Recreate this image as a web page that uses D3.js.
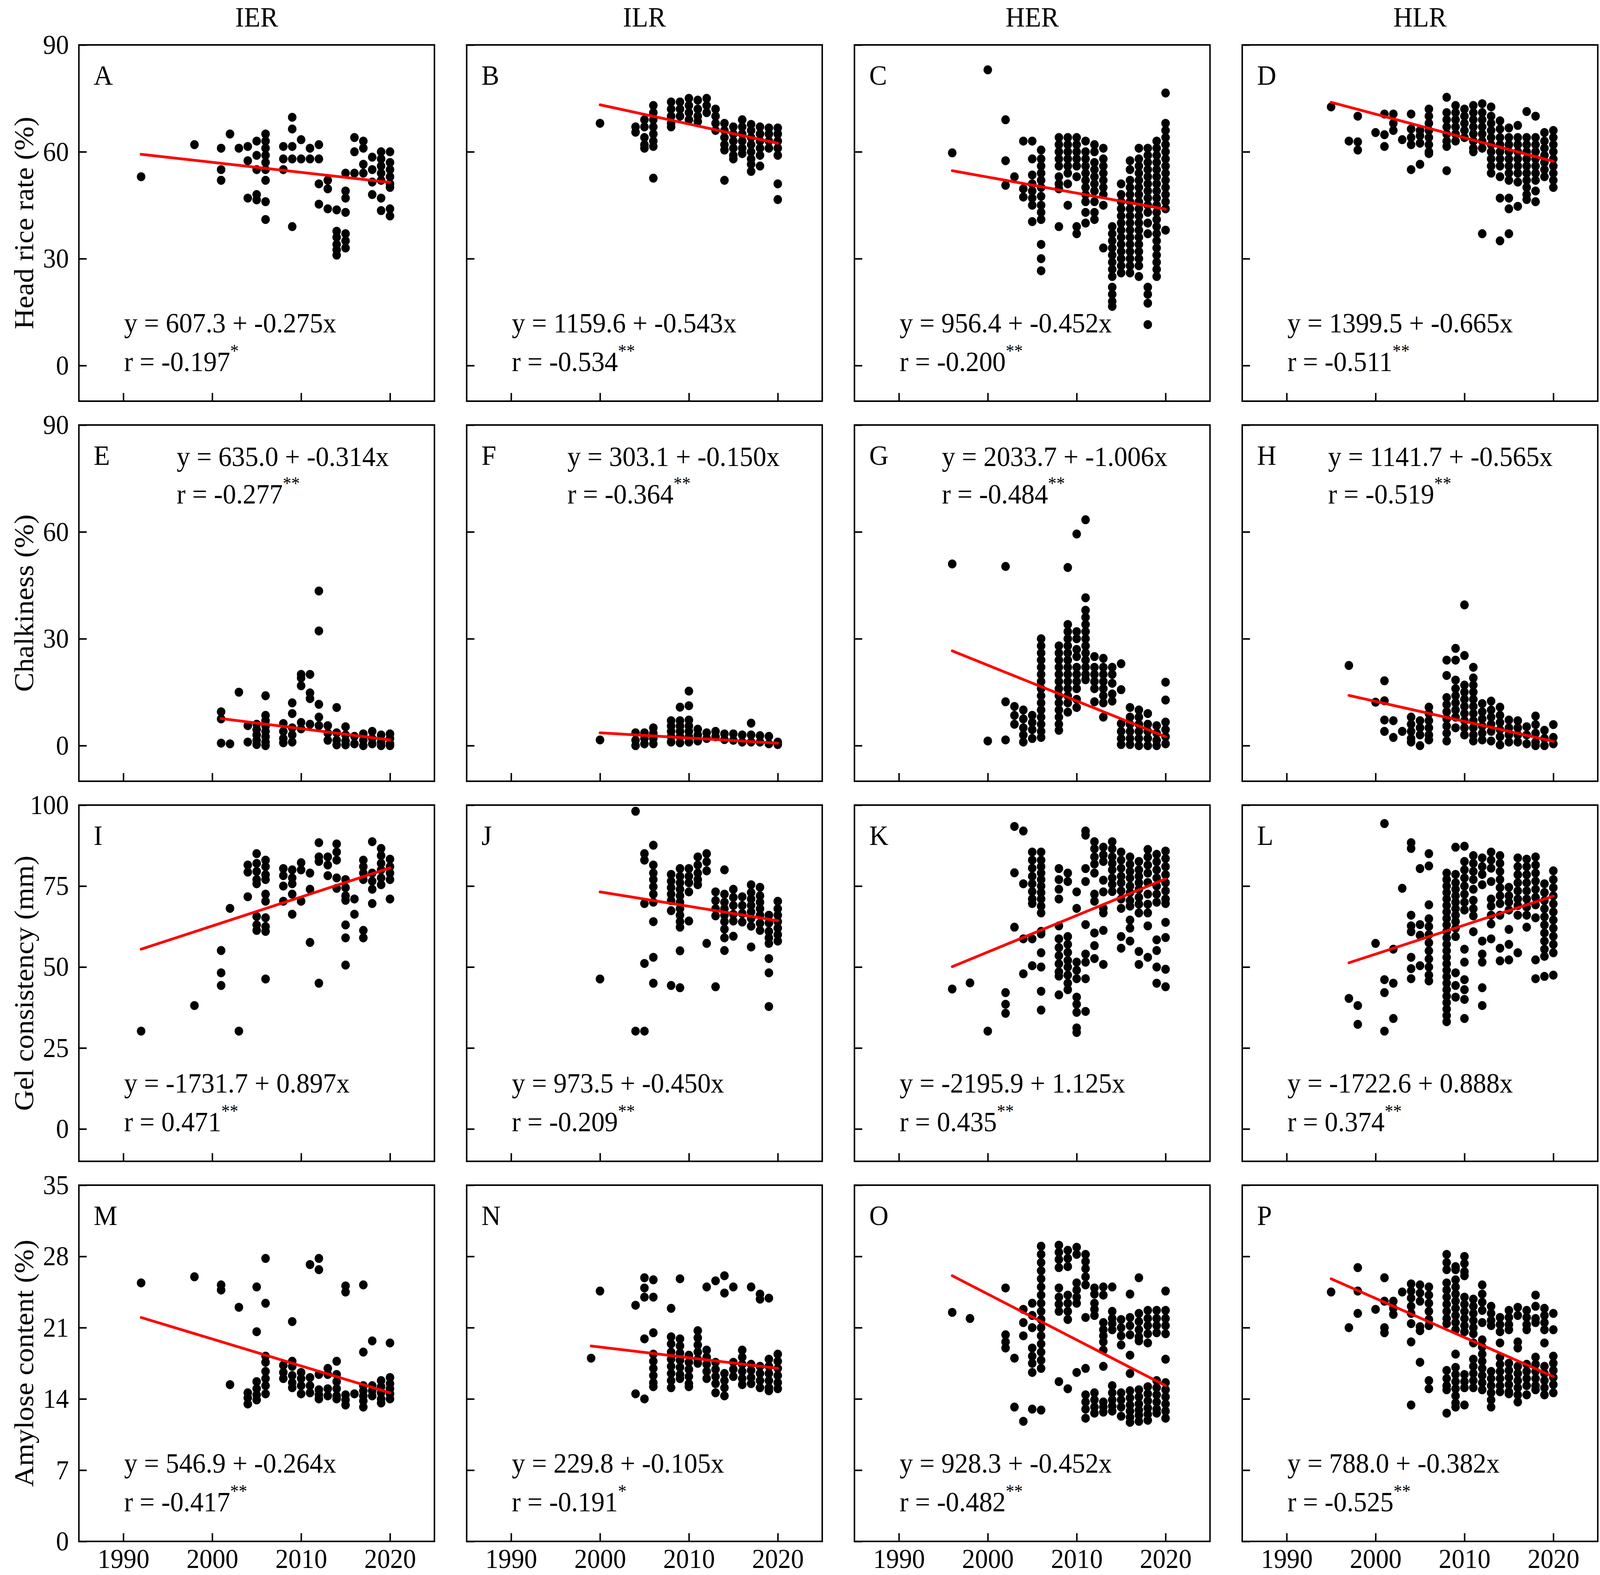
<!DOCTYPE html>
<html>
<head>
<meta charset="utf-8">
<script src="https://cdn.jsdelivr.net/npm/d3@7"></script>
<style>
  html, body { margin: 0; padding: 0; background: #fff; overflow: hidden; }
  #chart svg { display: block; width: 100vw; height: 100vh; }
</style>
</head>
<body>
<div id="chart"></div>
<script>
// Column (environment) titles and row (trait) titles.
const columnTitles = ["IER", "ILR", "HER", "HLR"];
const traitTitles = ["Head rice rate (%)", "Chalkiness (%)", "Gel consistency (mm)", "Amylose content (%)"];
const panelLetters = ["A", "B", "C", "D", "E", "F", "G", "H", "I", "J", "K", "L", "M", "N", "O", "P"];

// Axis ticks.
const yearTicks = [1990, 2000, 2010, 2020];
const yTicksHeadRice = [0, 30, 60, 90];
const yTicksChalk = [0, 30, 60, 90];
const yTicksGel = [0, 25, 50, 75, 100];
const yTicksAmylose = [0, 7, 14, 21, 28, 35];

// Regression labels.
const equationTexts = [
  "y = 607.3 + -0.275x", "y = 1159.6 + -0.543x", "y = 956.4 + -0.452x", "y = 1399.5 + -0.665x",
  "y = 635.0 + -0.314x", "y = 303.1 + -0.150x", "y = 2033.7 + -1.006x", "y = 1141.7 + -0.565x",
  "y = -1731.7 + 0.897x", "y = 973.5 + -0.450x", "y = -2195.9 + 1.125x", "y = -1722.6 + 0.888x",
  "y = 546.9 + -0.264x", "y = 229.8 + -0.105x", "y = 928.3 + -0.452x", "y = 788.0 + -0.382x"
];
const rTexts = [
  "r = -0.197", "r = -0.534", "r = -0.200", "r = -0.511",
  "r = -0.277", "r = -0.364", "r = -0.484", "r = -0.519",
  "r = 0.471", "r = -0.209", "r = 0.435", "r = 0.374",
  "r = -0.417", "r = -0.191", "r = -0.482", "r = -0.525"
];
const significance = [
  "*", "**", "**", "**",
  "**", "**", "**", "**",
  "**", "**", "**", "**",
  "**", "*", "**", "**"
];

// Fitted line end points [year0, value0, year1, value1].
const fitLines = [
  [1992, 59.3, 2020, 51.4], [2000, 73.2, 2020, 62.4], [1996, 54.7, 2020, 43.9], [1995, 73.9, 2020, 57.3],
  [2001, 7.6, 2020, 1.6], [2000, 3.6, 2020, 0.7], [1996, 26.6, 2020, 2.5], [1997, 14.1, 2020, 1.2],
  [1992, 55.5, 2020, 80.6], [2000, 73.2, 2020, 64.3], [1996, 50.1, 2020, 77.2], [1997, 51.3, 2020, 71.9],
  [1992, 22.0, 2020, 14.6], [1999, 19.2, 2020, 17.0], [1996, 26.1, 2020, 15.3], [1995, 25.8, 2020, 16.2]
];

// Observations per year: [year, [values...]].
// Head rice rate (%)
const hrrIER = [[1992,[53]],[1998,[62]],[2001,[61,55,52]],[2002,[65]],[2003,[61]],[2004,[61.5,57.5,47]],[2005,[63,59,55,48,46.5]],[2006,[65,63,61,59,57,55,52,46,41]],[2008,[61.5,58,55]],[2009,[69.7,66.4,61.5,58,39]],[2010,[63.4,58]],[2011,[61,58]],[2012,[62,58,51,45.3]],[2013,[52,49.6,44]],[2014,[43.7,37.7,36,34,32.5,31]],[2015,[54,49,47,43,37,35,33]],[2016,[64,60,54]],[2017,[63,61,56.5,54]],[2018,[58.5,55,51.5,48]],[2019,[60,58,56,54,52,47,43.5]],[2020,[60,57,55,53,51,50,44,42]]];
const hrrILR = [[2000,[68]],[2004,[67,65.5]],[2005,[69,67,64,62,61]],[2006,[73,71,69,67,65,63,61.5,52.6]],[2008,[74,72,70,68,67]],[2009,[74,72,70]],[2010,[75,73,71,69]],[2011,[74.5,72,70,68.5]],[2012,[75,73,71]],[2013,[72,70,68,66]],[2014,[68,66,64,62,60.5,52]],[2015,[67,65,63,61,59,58]],[2016,[69,67,65,63,61,59.5]],[2017,[67.7,66,64,62,60,58,56.5,54.5]],[2018,[67,65,63,61,59,56]],[2019,[66.7,65,63,61]],[2020,[66.7,65,63,61,59,51,46.6]]];
const hrrHER = [[1996,[59.7]],[2000,[83]],[2002,[69,57.5,50.6]],[2003,[53]],[2004,[63,49.6,47.3]],[2005,[63,58,53.5,51,49,47,45,40.4]],[2006,[60.5,58,56,54,52,50,47.5,45,43,41,34,30,26.6]],[2008,[64,62,60,58,56,53,51,49.6,39]],[2009,[64,62,60,58,56,54,51,45]],[2010,[64,62,60,58,56,53,39,37]],[2011,[63,60,58,56,54,52,50,48,46,43,40]],[2012,[62,60,57,55,53,51,49,46,43,41]],[2013,[61,58,56,54,52,50,48,45,33]],[2014,[39,37,35,33,31,29,27,25,22,20,18,16.6]],[2015,[51,48,46,44,42,40,38,36,34,32,30,28,26]],[2016,[57.5,55,52,50,48,46,44,42,40,38,36,34,32,30,28,26]],[2017,[61,58,56,54,52,50,48,46,44,42,40,38,36,34,32,30,28,25]],[2018,[61,59,57,55,53,51,49,47,45,43,40,37,22,20,17.5,11.5]],[2019,[63,61,59,57,55,53,51,49,47,45,43,41,39,37,35,33,31,29,27,25]],[2020,[76.5,68,66,64,62,60,58,56,54,52,50,48,46,44,38]]];
const hrrHLR = [[1995,[72.6]],[1997,[63]],[1998,[70,62.8,60.5]],[2000,[65.4]],[2001,[70.6,64.8,61.5]],[2002,[70.6,68,66]],[2003,[63.4]],[2004,[70.6,66.4,64,62,55]],[2005,[66,64.5,62.4,56.5]],[2006,[72,70,68,66,64,62,60,59.5]],[2008,[75.3,71,69,67,65,63,61.5,54.7]],[2009,[73,71,69,67,65,63]],[2010,[72,70,68,66,64]],[2011,[73,71,69,67,65,63,61,60]],[2012,[73.5,71,69,67,65,63,61,37]],[2013,[72.6,70,68,66,64,62,60,58,56,54]],[2014,[68.7,66.4,64,62,60,58,56,53,47,35]],[2015,[66.7,64,62,60,58,56,54,52,47,44,37]],[2016,[67.4,64,62,60,58,56,54,51.5,44.7]],[2017,[71.3,64,62,60,58,56,54,52,50,48,46.6]],[2018,[70,64,62,60,58,56,54,52,49,46]],[2019,[65.4,63,61,59,57,55,53]],[2020,[66,64,62,60,58,56,54,52,50]]];

// Chalkiness (%)
const chalkIER = [[2001,[9.5,7.5,0.7]],[2002,[0.5]],[2003,[15]],[2004,[5.6,1]],[2005,[6,4.5,3,1.5,0.3]],[2006,[14,8.5,7,5.5,4,2.5,1,0]],[2008,[6.2,4,2,0.8]],[2009,[12,9,5,3,1]],[2010,[20,19,16.8,6.5,4.7]],[2011,[20,14.8,13.2,6]],[2012,[43.4,32.2,11.6,8,5.6]],[2013,[5.6,3.5,1.5]],[2014,[10.7,3.6,1.5,0.2]],[2015,[5.3,3,1.3,0.2]],[2016,[2.6,0.5]],[2017,[3.3,1.5,0]],[2018,[4,2,0.5]],[2019,[3,1,0]],[2020,[3.3,2,0.5,0]]];
const chalkILR = [[2000,[1.6]],[2004,[3.6,1.5,0]],[2005,[3.6,2,0.5]],[2006,[5,3.5,2,0.5]],[2008,[7,5.5,4,2.5,1]],[2009,[10.8,7,5.5,4,2.5,0.8]],[2010,[15.3,11.2,7.2,5.5,4,2.5,1]],[2011,[4.6,3,1.3]],[2012,[3.6,2]],[2013,[4,2.5]],[2014,[3.3,1.7]],[2015,[3.3,1.5]],[2016,[3,1]],[2017,[6.3,3,1]],[2018,[2.8,1]],[2019,[2.6,0.5]],[2020,[1,0.3]]];
const chalkHER = [[1996,[51]],[2000,[1.3]],[2002,[50.3,12.3,1.6]],[2003,[11,8.5,6]],[2004,[10,7.5,5,3,1]],[2005,[8.5,6.5,4.5,2]],[2006,[30,28,26,24,22,20,18,16,14,12,10,8,6,4,2.3]],[2008,[28,26,24,22,20,18,16,14,12,10,8,6,4.3]],[2009,[50,34,32,30,28,26,24,22,20,18,16,14,12,9.4]],[2010,[59.4,32,30,27,25,22,20,18,16,13,10.7]],[2011,[63.4,41.5,38,36,34,32,30,28,26,24,22,20,18.5]],[2012,[25,22,20,18,16,12.3]],[2013,[24.5,22,20,18,16,14,12,8]],[2014,[22,20,17.5,14.5,12.5]],[2015,[23,15.7,6.2,4,2,0.3]],[2016,[10.7,8,6,4,2,0.3]],[2017,[10,8,6,4,2,0]],[2018,[9,6,4,2,0]],[2019,[5.6,3.5,1.5,0]],[2020,[17.8,12.8,6.6,4.5,2.5,0.5]]];
const chalkHLR = [[1997,[22.5]],[2000,[12.2]],[2001,[18.2,12.6,7.2,4]],[2002,[7,2.3]],[2003,[4]],[2004,[8,6,4,2,1]],[2005,[7,5,3,0]],[2006,[10.8,9,7,5,3,1.6]],[2008,[24,19.7,13.5,11.5,9.5,7.5,5.5,3.5,1.3]],[2009,[27.3,24,18.4,16,14,12,10,8,5]],[2010,[39.5,25.3,17,15,13,11,9,7,5,3]],[2011,[22,19,17,15,13,11,9,7,5,3,1.3]],[2012,[11.8,9.5,7.5,5.5,3.5,1.6]],[2013,[12.5,10,8,6,4,1.3]],[2014,[10.8,8.5,6.5,4.5,2.5,0.2]],[2015,[7.2,5,3,1]],[2016,[7,5,3,1]],[2017,[5.3,3,0.5]],[2018,[8.3,5.9,3.5,1,0]],[2019,[4.3,2,0]],[2020,[5.9,2.3,0.5]]];

// Gel consistency (mm)
const gelIER = [[1992,[30.2]],[1998,[38.1]],[2001,[55.1,48.2,44.3]],[2002,[68.1]],[2003,[30.2]],[2004,[81.5,79.3,71.7]],[2005,[85,82,79.5,77,75.7,65.6,63,61.3]],[2006,[83,81,78.5,77,72.5,70.3,65.2,62.5,61,46.3]],[2008,[80.4,78.2,75,70.3]],[2009,[80,77.5,75.7,72.5,66.3]],[2010,[82.2,80,70.3]],[2011,[79,74,57.6]],[2012,[88.4,84,82.6,45]],[2013,[84,81.5,78.2]],[2014,[88,85.5,83,77.5,74.3]],[2015,[77,74.5,72,70.6,63,59,50.6]],[2016,[71,66.3]],[2017,[83,81,79,77,61.3,59]],[2018,[88.7,79,76.5,74,69.6]],[2019,[86.6,84.4,82,80,77.5,75.4]],[2020,[83.3,81,79,77,71]]];
const gelILR = [[2000,[46.3]],[2004,[98.1,30.2]],[2005,[85,83,69.6,51.1,30.2]],[2006,[87.6,81.5,79,77,74.8,72.5,70,64,53,45]],[2008,[78.6,76.5,74.5,72.5,70.5,67.4,44.3]],[2009,[80.4,78,76,74,72,70,68,66,64,62.3,55,43.6]],[2010,[80.4,78,76,73.2,64.2]],[2011,[84,81.5,79,77,75.4]],[2012,[85,82.5,79.7,57.3]],[2013,[73.2,70.5,68,65.8,43.9]],[2014,[80,72.5,70,68,66,64,61.7,59,55.1]],[2015,[74,71.5,69,66.3,64.2,59.5]],[2016,[71.7,69,66.5,63.9]],[2017,[75.4,73,71,69,67,65,62.6,56.2]],[2018,[74.6,72,70,68,66,63.5,61.3]],[2019,[66,63.6,61,59,57.3,52.6,48.2,37.8]],[2020,[70.3,68,66,64,62,60,58]]];
const gelHER = [[1996,[43.2]],[1998,[45.1]],[2000,[30.2]],[2002,[42.1,38.5,35.7]],[2003,[93.4,79.1,62.3]],[2004,[92,75.7,58.7,47.9]],[2005,[85.5,83,80.5,78,75.7,73.3,71,69.6,58.7,50.4]],[2006,[85.5,83,81,79,77,75,73,71,68.8,66.7,61,60.2,54.4,50,42.5,36.7]],[2008,[80.4,77,74,71,62.7,58.7,56,53.5,51,48.5,47.2,41.4]],[2009,[79,76.4,59.4,57,54.5,52,50,47.5,45,43]],[2010,[73.2,68.1,51.5,49,46.4,40.7,38.5,36,31.2,29.8]],[2011,[92,90.7,80.4,76.4,63.1,54,51.5,46.4,36.3]],[2012,[88.7,86.5,84,81.8,79,72.5,70.3,60.5,56.6,52.6]],[2013,[87,84.6,82.6,76.8,73.2,68.1,66.7,61.3,50.8]],[2014,[88.7,86.5,84,82,80,77.5,75.5,73.3]],[2015,[85.5,83,80.5,78,76,73.5,71,68.1,59.4,55.8]],[2016,[84,81.7,79.5,77.5,75,73,70.5,68.8,64.5,62,58]],[2017,[82.6,80,78,76,74,71.5,69.4,66.7,54.8,50.8]],[2018,[86.3,84,81.5,79,76.1,72.5,69.4,66.7,62.7,53]],[2019,[84.8,82.5,80,77.5,75,72.5,70,58.4,55.1,50,45]],[2020,[85.8,83.5,81,78.5,76,73.5,71,69.6,63.8,59.1,49.3,43.9]]];
const gelHLR = [[1997,[40.3]],[1998,[38.1,32.3]],[2000,[57.3]],[2001,[94.3,46.1,42.1,30.2]],[2002,[55.5,45,34.1]],[2003,[74.3]],[2004,[88.4,86.6,66,62.7,60.9,53,49.5,46.4]],[2005,[80.4,63.1,59.8,50.4]],[2006,[85,81.2,69.2,64.9,62.5,60,57.5,55,52.5,50,47.5,45.7]],[2008,[79,77,75,73,71,69,67,65,63,61,59,57,55,53,51,49,47,45,43,41,39,37,35,33.1]],[2009,[87,78.6,76,74,72,70,68,66,64,62,59.4,48.2,44.3,40.7]],[2010,[87.3,82.6,80,77.5,75,72.5,70,67.6,55.5,51.5,46.1,43,40,34.1]],[2011,[84.4,82,79.5,77,74,70.6,68,65.8,60.9]],[2012,[83.7,81,78.6,75.4,58,54,51.5,43.6,38.1]],[2013,[85.5,83,80.5,76.4,71,68.8,66,63.3,58.7]],[2014,[84.4,82,79.5,77,74.5,72,69.6,66,55.8,51.9]],[2015,[74.6,72,70,67.6,61.6,57,52.2]],[2016,[83.7,81,78.5,76,73.5,71,69,66,54.4]],[2017,[83.3,81,78.5,76,73.5,71,68.5,66,62.3]],[2018,[84,81.5,79,76.5,74,71.5,69.2,65.2,52.2,46.4]],[2019,[75.7,73,70.5,68,65.5,63,60.5,58,55.5,53.3,47.1]],[2020,[79.7,77,74.5,72,69.5,67,64.5,62,59.5,57,54.4,47.5]]];

// Amylose content (%)
const amyIER = [[1992,[25.4]],[1998,[26]],[2001,[25.2,24.7]],[2002,[15.4]],[2003,[23]],[2004,[14.6,14.1,13.5]],[2005,[25,20.6,15.7,15,14.4,13.9]],[2006,[27.8,23.4,18.2,17.6,16.7,16,15.3,14.5]],[2008,[17.3,16.6,16]],[2009,[21.6,17.7,17.2,16.3,15.6,15.1]],[2010,[16.6,16,15.3,14.5]],[2011,[27.2,16.1,15.3,14.6]],[2012,[27.8,26.7,16.4,14.9,14.4,14]],[2013,[17,16.4,15,14.3]],[2014,[17.7,16.4,15.7,15,14.3,14]],[2015,[25.1,24.5,14.4,13.9,13.4]],[2016,[14.5]],[2017,[25.2,18.6,15.3,14.8,14.3,13.8,13.2]],[2018,[19.7,15.3,14.8,14.3]],[2019,[15.8,15.2,14.6,14,13.6]],[2020,[19.5,16.1,15.5,15,14.5,14]]];
const amyILR = [[1999,[18]],[2000,[24.6]],[2004,[23.2,14.5]],[2005,[25.9,24.9,24,19.9,14]],[2006,[25.7,24,20.5,18.4,17.7,17,16.3,15.6,15.2]],[2008,[22.9,20.1,19.4,18.6,17.9,17.2,16.5,15.8,15.1]],[2009,[25.8,19.9,19.2,18.5,17.8,17.1,16.4,16]],[2010,[18.3,17.6,16.9,16.2,15.5,15.2]],[2011,[20.7,20,19.3,18.6,17.9,17.5]],[2012,[25,18.8,18.1,17.4,16.7,16]],[2013,[25.6,17.6,16.9,16.2,15.5,14.6]],[2014,[26.1,24.4,16.5,15.8,15.1,14.3]],[2015,[25,17.6,16.9,16.2]],[2016,[18.8,18.1,17.4,16.7,16,15.4]],[2017,[25,17.4,16.8,16.1,15.5]],[2018,[24.3,23.8,17.2,16.5,15.8,15.1]],[2019,[23.9,17.9,17.2,16.5,15.8,15.1,14.8]],[2020,[18.4,17.7,17,16.3,15.6,15]]];
const amyHER = [[1996,[22.5]],[1998,[21.9]],[2002,[24.9,20.3,19.6,19]],[2003,[18,13.2]],[2004,[22.8,21.5,20.2,11.8]],[2005,[23.4,22.2,21,19,18.2,17.5,16.6,13]],[2006,[29,28.2,27.4,26.6,25.8,25,24.2,23.4,22.6,21.8,21,20.2,19.4,18.6,17.8,17,12.9]],[2008,[29.1,28.4,27.7,26.9,24.9,24,23.3,22.6,15.7]],[2009,[28.6,27.8,27,24.2,23.4,22.6,21.8,15]],[2010,[28.9,28.2,25.4,24.7,24,23.4,16.6]],[2011,[28.2,27.5,26.8,26,25.2,22,17,14.4,13.7,13,12.1]],[2012,[24.9,24.3,23.4,22.8,22.2,14.6,13.9,13.2,12.6]],[2013,[25,24.2,21.5,20.8,20.2,19.6,18.8,17.2,13.7,13.2,12.7]],[2014,[25,22.6,21.9,21.4,20.8,15.3,14.6,13.9,13.3,12.8]],[2015,[21.8,21,20.2,19.3,14.6,13.9,13.2,12.3]],[2016,[24.3,22,21.2,20.3,18.3,16.5,14.8,14.1,13.4,12.8,12.2,11.7]],[2017,[25.9,22.4,21.6,20.8,20.1,19.7,14.9,14.2,13.5,12.9,12.4,11.8]],[2018,[22.7,21.9,21.2,20.4,19.5,15.2,14.5,13.8,13.1,12.5,11.9]],[2019,[22.7,21.9,21.2,20.5,15.8,15.1,14.4,13.7,13,12.6]],[2020,[24.6,22.7,21.9,21.2,20.4,17.9,15.6,14.9,14.2,13.5,12.8,12.1]]];
const amyHLR = [[1995,[24.5]],[1997,[21]],[1998,[26.9,24.6,22.4]],[2000,[22.8]],[2001,[25.9,23.6,21,20.5]],[2002,[23.6,22.9,22.3]],[2003,[24.5]],[2004,[25.3,24.6,23.9,23.1,22.4,21.4,19.6,13.4]],[2005,[25.2,24.4,23.6,21.1,20.7,17.6]],[2006,[25,24.2,23.4,22.6,21.8,21.2,15.8,15]],[2008,[28.2,27.4,26.7,25.4,24.7,24,23.3,22.6,21.9,21.4,16.8,16,15.3,14.9,12.6]],[2009,[27,26.7,25.7,25,24.3,23.6,22.9,22.2,21.5,20.8,18.4,17.1,16.4,15.7,15,14.3,13.6,13.2]],[2010,[28,27.3,26.5,26.1,24,23.3,22.6,21.9,21.2,20.6,16.4,15.7,15.1,13.4]],[2011,[23.8,23.1,22.4,21.7,21,20.4,19.5,17.9,17.2,16.5,15.8,15.1]],[2012,[25.2,24.3,23.5,22.7,21.5,19.8,19.1,18.4,17.7,17,16.3,15.6,14.9]],[2013,[23.1,22.4,21.7,21.2,16.7,16,15.3,14.6,13.9,13.2]],[2014,[22,21.3,20.6,19.5,18.1,17.4,16.7,16,15.3,14.7]],[2015,[22.7,22,21.3,20.8,17.5,16.8,16.1,15.4,14.7,14.5]],[2016,[23,22.2,19.6,19,17.2,16.5,15.8,15.1,14.4,13.7]],[2017,[22.7,22,21.3,20.8,17.4,16.7,16,15.3,14.4]],[2018,[24.2,23.1,21.9,21.5,18.1,17.4,16.7,16,15.3,14.9]],[2019,[22.9,22.2,21.5,20.8,19.5,17.2,16.5,15.8,15.1,14.4]],[2020,[22.4,20.8,18.2,17.5,16.8,16.1,15.4,14.6]]];

/**
 * Layout.
 */
const width = 4320;
const height = 4032;
const colLeft = [213, 1260, 2307, 3354];
const rowTop = [115, 1088, 2061, 3034];
const panelW = 960;
const panelH = 912;
const fontFamily = "'Liberation Serif', 'Times New Roman', serif";

// Assemble the grid from the named arrays.
const panelData = [
  [hrrIER, hrrILR, hrrHER, hrrHLR],
  [chalkIER, chalkILR, chalkHER, chalkHLR],
  [gelIER, gelILR, gelHER, gelHLR],
  [amyIER, amyILR, amyHER, amyHLR],
];
const rowTicks = [yTicksHeadRice, yTicksChalk, yTicksGel, yTicksAmylose];
const rowDomains = [[-10, 90], [-10, 90], [-10, 100], [0, 35]];

// The drawing is laid out on a 4320x4032 canvas and fitted to the window.
const svg = d3.select("#chart")
  .append("svg")
  .attr("viewBox", `0 0 ${width} ${height}`)
  .attr("preserveAspectRatio", "none")
  .style("font-family", fontFamily);

svg.append("rect").attr("width", width).attr("height", height).attr("fill", "#fff");

// Column titles.
svg.selectAll(".col-title")
  .data(columnTitles)
  .join("text")
  .attr("class", "col-title")
  .attr("x", (d, i) => colLeft[i] + panelW / 2)
  .attr("y", 68)
  .attr("text-anchor", "middle")
  .attr("font-size", 72)
  .text((d) => d);

// Row titles (rotated).
svg.selectAll(".row-title")
  .data(traitTitles)
  .join("text")
  .attr("class", "row-title")
  .attr("transform", (d, i) => `translate(90,${rowTop[i] + panelH / 2}) rotate(-90)`)
  .attr("text-anchor", "middle")
  .attr("font-size", 74)
  .text((d) => d);

panelData.forEach((rowData, r) => {
  rowData.forEach((series, c) => {
    const idx = r * 4 + c;
    const g = svg.append("g").attr("transform", `translate(${colLeft[c]},${rowTop[r]})`);

    const x = d3.scaleLinear().domain([1985, 2025]).range([0, panelW]);
    const y = d3.scaleLinear().domain(rowDomains[r]).range([panelH, 0]);

    // Points.
    const points = series.flatMap(([year, values]) => values.map((v) => [year, v]));
    g.append("g")
      .selectAll("circle")
      .data(points)
      .join("circle")
      .attr("cx", (d) => x(d[0]))
      .attr("cy", (d) => y(d[1]))
      .attr("r", 11.5)
      .attr("fill", "#000");

    // Regression line.
    const [x0, y0, x1, y1] = fitLines[idx];
    g.append("line")
      .attr("x1", x(x0)).attr("y1", y(y0))
      .attr("x2", x(x1)).attr("y2", y(y1))
      .attr("stroke", "#ff0000")
      .attr("stroke-width", 7)
      .attr("stroke-linecap", "round");

    // Y axis, ticks pointing inward.
    const yAxis = g.append("g")
      .call(
        d3.axisLeft(y)
          .tickValues(rowTicks[r])
          .tickSize(-21)
          .tickPadding(27)
          .tickFormat(c === 0 ? d3.format("d") : () => "")
      );
    // X axis, ticks pointing inward.
    const xAxis = g.append("g")
      .attr("transform", `translate(0,${panelH})`)
      .call(
        d3.axisBottom(x)
          .tickValues(yearTicks)
          .tickSize(-21)
          .tickPadding(18)
          .tickFormat(r === 3 ? d3.format("d") : () => "")
      );
    [yAxis, xAxis].forEach((ax) => {
      ax.select(".domain").remove();
      ax.selectAll(".tick line").attr("stroke", "#000").attr("stroke-width", 4);
      ax.selectAll(".tick text")
        .attr("fill", "#000")
        .attr("font-size", 70)
        .attr("font-family", fontFamily);
    });

    // Frame.
    g.append("rect")
      .attr("width", panelW)
      .attr("height", panelH)
      .attr("fill", "none")
      .attr("stroke", "#000")
      .attr("stroke-width", 4);

    // Panel letter.
    g.append("text")
      .attr("x", 40)
      .attr("y", 102)
      .attr("font-size", 72)
      .text(panelLetters[idx]);

    // Equation and r text (top of panel in the chalkiness row).
    const topOffsets = [264, 272, 236, 232];
    const textX = r === 1 ? topOffsets[c] : 122;
    const eqY = r === 1 ? 105 : panelH - 176;
    const rY = r === 1 ? 201 : panelH - 77;

    g.append("text")
      .attr("x", textX)
      .attr("y", eqY)
      .attr("font-size", 72)
      .text(equationTexts[idx]);

    const rText = g.append("text")
      .attr("x", textX)
      .attr("y", rY)
      .attr("font-size", 72);
    rText.append("tspan").text(rTexts[idx]);
    rText.append("tspan")
      .attr("font-size", 46)
      .attr("dy", -36)
      .text(significance[idx]);
  });
});
</script>
</body>
</html>
